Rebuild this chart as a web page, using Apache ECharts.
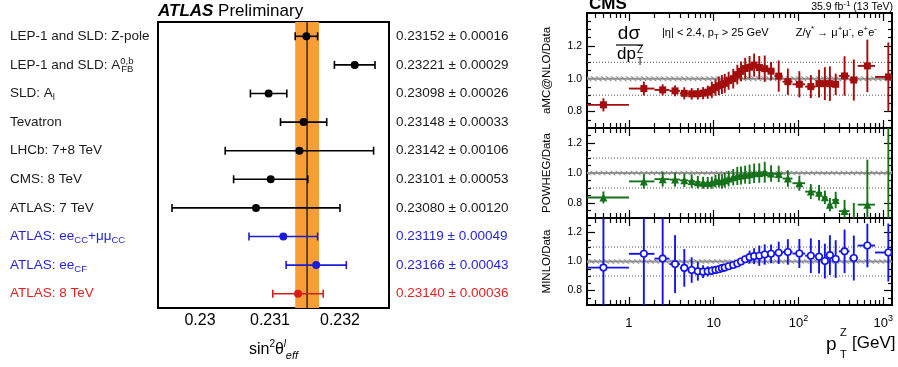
<!DOCTYPE html>
<html>
<head>
<meta charset="utf-8">
<script src="https://cdn.jsdelivr.net/npm/echarts@6.0.0/dist/echarts.min.js"></script>
<style>
  html, body { margin: 0; padding: 0; background: #fff; }
  #chart { width: 898px; height: 367px; }
</style>
</head>
<body>
<div id="chart"></div>
<script>
// ---- left panel: sin^2 theta_eff summary ----
const measurementLabels = [
  'LEP-1 and SLD: Z-pole',
  'LEP-1 and SLD: A{sup|0,b}{sub|FB}',
  'SLD: A{sub|l}',
  'Tevatron',
  'LHCb: 7+8 TeV',
  'CMS: 8 TeV',
  'ATLAS: 7 TeV',
  'ATLAS: ee{sub|CC}+μμ{sub|CC}',
  'ATLAS: ee{sub|CF}',
  'ATLAS: 8 TeV'
];
const sin2Values = [0.23152, 0.23221, 0.23098, 0.23148, 0.23142, 0.23101, 0.23080, 0.23119, 0.23166, 0.23140];
const sin2Errors = [0.00016, 0.00029, 0.00026, 0.00033, 0.00106, 0.00053, 0.00120, 0.00049, 0.00043, 0.00036];
const rowGroup = ['other', 'other', 'other', 'other', 'other', 'other', 'other', 'atlasNew', 'atlasNew', 'atlas8'];
const worldAverage = 0.23153;
const worldAverageError = 0.00017;
const sin2TickLabels = [0.230, 0.231, 0.232];

// ---- right panel: Z pT ratios (bin edges in GeV) ----
const ptEdges = [0, 1, 2, 3, 4, 5, 6, 7, 8, 9, 10, 11, 12, 13, 14, 16, 18, 20, 22, 25, 28, 32, 37, 43, 52, 65, 85,
  120, 160, 190, 220, 250, 300, 400, 500, 800, 1500];
const amcRatio = [0.841, 0.94, 0.932, 0.926, 0.911, 0.908, 0.908, 0.912, 0.918, 0.932, 0.946, 0.957, 0.965, 0.972,
  0.988, 1.0, 1.025, 1.045, 1.062, 1.07, 1.083, 1.068, 1.061, 1.046, 1.016, 0.982,
  0.966, 0.952, 0.97, 0.97, 0.97, 0.966, 1.017, 0.992, 1.078, 1.011];
const amcErr = [0.04, 0.042, 0.034, 0.033, 0.037, 0.035, 0.035, 0.037, 0.04, 0.05, 0.05, 0.057, 0.058, 0.058,
  0.055, 0.06, 0.06, 0.06, 0.065, 0.068, 0.07, 0.07, 0.08, 0.055, 0.095, 0.08,
  0.08, 0.07, 0.085, 0.1, 0.105, 0.065, 0.12, 0.125, 0.16, 0.21];
const powhegRatio = [0.837, 0.944, 0.959, 0.956, 0.951, 0.946, 0.939, 0.935, 0.934, 0.936, 0.946, 0.949, 0.944, 0.952,
  0.963, 0.972, 0.98, 0.983, 0.989, 0.991, 0.998, 1.0, 1.005, 0.996, 0.994, 0.963,
  0.932, 0.876, 0.868, 0.838, 0.789, 0.82, 0.746, 0.66, 0.789, 0.6];
const powhegErr = [0.04, 0.048, 0.05, 0.047, 0.045, 0.045, 0.042, 0.04, 0.04, 0.04, 0.042, 0.045, 0.048, 0.05,
  0.052, 0.055, 0.06, 0.06, 0.06, 0.065, 0.065, 0.065, 0.07, 0.055, 0.055, 0.055,
  0.05, 0.05, 0.052, 0.045, 0.045, 0.055, 0.075, 0.14, 0.3, 0.75];
const minloRatio = [0.958, 1.053, 1.02, 0.982, 0.956, 0.941, 0.932, 0.93, 0.932, 0.936, 0.942, 0.947, 0.954, 0.958,
  0.967, 0.976, 0.986, 1.0, 1.016, 1.03, 1.037, 1.04, 1.048, 1.053, 1.06, 1.066,
  1.055, 1.04, 1.033, 1.003, 1.044, 1.017, 1.07, 1.024, 1.11, 1.062];
const minloErr = [0.4, 0.4, 0.4, 0.2, 0.13, 0.088, 0.064, 0.044, 0.035, 0.03, 0.026, 0.022, 0.02, 0.02,
  0.02, 0.02, 0.02, 0.02, 0.025, 0.045, 0.055, 0.07, 0.07, 0.065, 0.077, 0.088,
  0.1, 0.12, 0.115, 0.12, 0.137, 0.13, 0.15, 0.155, 0.15, 0.2];
const ptTickLabels = [1, 10, 100, 1000];
const ratioTickLabels = [0.8, 1.0, 1.2];
const ratioRefLines = [0.9, 1.1];
const ratioBand = 0.015;

const FONT = "'Liberation Sans', Arial, Helvetica, sans-serif";
const groupColor = { other: '#000000', atlasNew: '#1c1cd6', atlas8: '#d81c1c' };
const textColor = { other: '#1a1a1a', atlasNew: '#2424e0', atlas8: '#e02424' };

const ptMin = 0.32, ptMax = 1270;

// minor ticks
const sin2Minor = [];
for (let k = 1147; k <= 1163; k++) {
  const v = +(k * 0.0002).toFixed(4);
  if (Math.abs(v * 1000 - Math.round(v * 1000)) > 1e-6) sin2Minor.push(v);
}
const ptMinor = [];
[0.1, 1, 10, 100].forEach(d => {
  for (let m = 2; m <= 9; m++) { const v = +(m * d).toFixed(3); if (v >= ptMin && v <= ptMax) ptMinor.push(v); }
});
function ratioMinor(lo, hi) {
  const out = [];
  for (let v = lo + 0.05; v < hi - 1e-6; v += 0.05) {
    const r = +v.toFixed(2);
    if (!ratioTickLabels.some(t => Math.abs(t - r) < 1e-6)) out.push(r);
  }
  return out;
}

// hatch pattern for the reference band
const hatch = document.createElement('canvas');
hatch.width = 5; hatch.height = 5;
const hctx = hatch.getContext('2d');
hctx.strokeStyle = '#8a8a8a';
hctx.lineWidth = 1.1;
hctx.beginPath();
hctx.moveTo(0, 0); hctx.lineTo(5, 5);
hctx.moveTo(-1, 4); hctx.lineTo(1, 6);
hctx.moveTo(4, -1); hctx.lineTo(6, 1);
hctx.stroke();
const hatchFill = { image: hatch, repeat: 'repeat' };

function binData(ratio, err) {
  return ratio.map((r, i) => [(ptEdges[i] + ptEdges[i + 1]) / 2, r, ptEdges[i], ptEdges[i + 1], err[i]]);
}

// horizontal error bars with caps (left panel)
function renderSin2Err(params, api) {
  const v = api.value(0), i = api.value(1), e = api.value(2);
  const a = api.coord([v - e, i]), b = api.coord([v + e, i]);
  const st = { stroke: groupColor[rowGroup[params.dataIndex]], lineWidth: 1.6 };
  const cap = 4;
  return {
    type: 'group', children: [
      { type: 'line', shape: { x1: a[0], y1: a[1], x2: b[0], y2: b[1] }, style: st },
      { type: 'line', shape: { x1: a[0], y1: a[1] - cap, x2: a[0], y2: a[1] + cap }, style: st },
      { type: 'line', shape: { x1: b[0], y1: b[1] - cap, x2: b[0], y2: b[1] + cap }, style: st }
    ]
  };
}

function renderBand(params, api) {
  const cs = params.coordSys;
  const lo = api.coord([worldAverage - worldAverageError, 0])[0];
  const hi = api.coord([worldAverage + worldAverageError, 0])[0];
  const c = api.coord([worldAverage, 0])[0];
  return {
    type: 'group', children: [
      { type: 'rect', shape: { x: lo, y: cs.y, width: hi - lo, height: cs.height }, style: { fill: '#f99d36' } },
      { type: 'line', shape: { x1: c, y1: cs.y, x2: c, y2: cs.y + cs.height }, style: { stroke: '#3b3024', lineWidth: 1.6 } }
    ]
  };
}

// bin-width + vertical error bars (right panel)
function makeBinErr(color) {
  return function (params, api) {
    const x = api.value(0), y = api.value(1);
    const lo = Math.max(api.value(2), ptMin), hi = api.value(3), e = api.value(4);
    const pl = api.coord([lo, y]), pr = api.coord([hi, y]);
    const pt = api.coord([x, y + e]), pb = api.coord([x, y - e]);
    const st = { stroke: color, lineWidth: 1.9 };
    return {
      type: 'group', children: [
        { type: 'line', shape: { x1: pl[0], y1: pl[1], x2: pr[0], y2: pr[1] }, style: st },
        { type: 'line', shape: { x1: pt[0], y1: pt[1], x2: pb[0], y2: pb[1] }, style: st }
      ]
    };
  };
}

function renderRef(params, api) {
  const cs = params.coordSys;
  const xa = cs.x, xb = cs.x + cs.width;
  const yHi = api.coord([ptMin, 1 + ratioBand])[1];
  const yLo = api.coord([ptMin, 1 - ratioBand])[1];
  const yOne = api.coord([ptMin, 1])[1];
  const children = [
    { type: 'rect', shape: { x: xa, y: yHi, width: cs.width, height: yLo - yHi }, style: { fill: hatchFill } },
    { type: 'line', shape: { x1: xa, y1: yOne, x2: xb, y2: yOne }, style: { stroke: '#8f8f8f', lineWidth: 2 } }
  ];
  ratioRefLines.forEach(r => {
    const y = api.coord([ptMin, r])[1];
    children.push({ type: 'line', shape: { x1: xa, y1: y, x2: xb, y2: y }, style: { stroke: '#555', lineWidth: 1, lineDash: [1, 2] } });
  });
  return { type: 'group', children };
}

// ---- grids ----
const grids = [
  { left: 158, top: 22, width: 231, height: 286 },
  { left: 587, top: 13, width: 305, height: 115 },
  { left: 587, top: 128, width: 305, height: 90 },
  { left: 587, top: 218, width: 305, height: 87 }
].map(g => Object.assign(g, {
  show: true, borderColor: '#000', borderWidth: 2, backgroundColor: 'transparent',
  containLabel: false, outerBoundsMode: 'none'
}));

const tickLine = { color: '#000', width: 1.2 };
const xAxes = [
  {
    type: 'value', gridIndex: 0, position: 'bottom', min: 0.2294, max: 0.2327,
    axisLine: { show: false, onZero: false }, splitLine: { show: false },
    axisTick: { inside: true, length: 7, customValues: sin2TickLabels, lineStyle: tickLine },
    axisLabel: { customValues: sin2TickLabels, formatter: v => String(+v.toFixed(3)), fontSize: 16, color: '#000', margin: 5, fontFamily: FONT },
    name: 'sin{s|2}θ{l|l}{e|eff}', nameLocation: 'middle', nameGap: 31, nameMoveOverlap: false,
    nameTextStyle: {
      fontSize: 16, color: '#000', fontFamily: FONT, lineHeight: 22,
      rich: {
        s: { fontSize: 10, verticalAlign: 'top', lineHeight: 12, fontFamily: FONT },
        l: { fontSize: 10, fontStyle: 'italic', verticalAlign: 'top', lineHeight: 12, width: 2, fontFamily: FONT },
        e: { fontSize: 11, fontStyle: 'italic', verticalAlign: 'bottom', lineHeight: 8, fontFamily: FONT }
      }
    }
  },
  {
    type: 'value', gridIndex: 0, position: 'bottom', min: 0.2294, max: 0.2327,
    axisLine: { show: false, onZero: false }, splitLine: { show: false },
    axisTick: { inside: true, length: 4, customValues: sin2Minor, lineStyle: tickLine },
    axisLabel: { show: false }
  }
];
function ptAxis(gi, pos, ticks, len, withLabels) {
  return {
    type: 'log', logBase: 10, gridIndex: gi, position: pos, min: ptMin, max: ptMax,
    axisLine: { show: false, onZero: false }, splitLine: { show: false },
    axisTick: { inside: true, length: len, customValues: ticks, lineStyle: tickLine },
    axisLabel: withLabels ? {
      customValues: ptTickLabels, fontSize: 13, color: '#000', margin: 9, fontFamily: FONT, lineHeight: 18,
      formatter: v => { const e = Math.round(Math.log10(v)); return e === 0 ? '1' : e === 1 ? '10' : '10{sup|' + e + '}'; },
      rich: { sup: { fontSize: 9, verticalAlign: 'top', lineHeight: 11, fontFamily: FONT } }
    } : { show: false }
  };
}
for (let p = 0; p < 3; p++) {
  xAxes.push(ptAxis(p + 1, 'bottom', ptTickLabels, 8, p === 2));
  xAxes.push(ptAxis(p + 1, 'bottom', ptMinor, 5, false));
  xAxes.push(ptAxis(p + 1, 'top', ptTickLabels, 8, false));
  xAxes.push(ptAxis(p + 1, 'top', ptMinor, 5, false));
}

const yAxes = [
  {
    type: 'category', gridIndex: 0, position: 'left', inverse: true, data: measurementLabels,
    axisLine: { show: false, onZero: false }, splitLine: { show: false },
    axisTick: { inside: true, length: 12, lineStyle: { color: '#000', width: 1.5 } },
    axisLabel: {
      interval: 0, align: 'left', margin: 148, fontSize: 13.5, lineHeight: 18, fontFamily: FONT,
      color: (v, i) => textColor[rowGroup[i]],
      rich: {
        sub: { fontSize: 9.5, verticalAlign: 'bottom', lineHeight: 9, fontFamily: FONT },
        sup: { fontSize: 9.5, verticalAlign: 'top', lineHeight: 9, width: 1, fontFamily: FONT }
      }
    }
  },
  {
    type: 'category', gridIndex: 0, position: 'right', inverse: true, data: measurementLabels,
    axisLine: { show: false, onZero: false }, splitLine: { show: false },
    axisTick: { inside: true, length: 12, lineStyle: { color: '#000', width: 1.5 } },
    axisLabel: {
      interval: 0, align: 'left', margin: 7, fontSize: 13.5, fontFamily: FONT,
      color: (v, i) => textColor[rowGroup[i]],
      formatter: (v, i) => sin2Values[i].toFixed(5) + ' ± ' + sin2Errors[i].toFixed(5)
    }
  }
];
const panelNames = ['aMC@NLO/Data', 'POWHEG/Data', 'MINLO/Data'];
const panelMax = [1.4, 1.3, 1.3];
function ratioAxis(gi, pos, ticks, len, max, name) {
  const ax = {
    type: 'value', gridIndex: gi, position: pos, min: 0.7, max: max,
    axisLine: { show: false, onZero: false }, splitLine: { show: false },
    axisTick: { inside: true, length: len, customValues: ticks, lineStyle: tickLine },
    axisLabel: name ? {
      customValues: ratioTickLabels, formatter: v => v.toFixed(1), fontSize: 10.5, color: '#000', margin: 5, fontFamily: FONT
    } : { show: false }
  };
  if (name) {
    Object.assign(ax, {
      name: name, nameLocation: 'middle', nameGap: 34, nameRotate: 90, nameMoveOverlap: false,
      nameTextStyle: { fontSize: 11.5, color: '#000', fontFamily: FONT }
    });
  }
  return ax;
}
for (let p = 0; p < 3; p++) {
  const minor = ratioMinor(0.7, panelMax[p]);
  yAxes.push(ratioAxis(p + 1, 'left', ratioTickLabels, 8, panelMax[p], panelNames[p]));
  yAxes.push(ratioAxis(p + 1, 'left', minor, 4, panelMax[p], null));
  yAxes.push(ratioAxis(p + 1, 'right', ratioTickLabels, 8, panelMax[p], null));
  yAxes.push(ratioAxis(p + 1, 'right', minor, 4, panelMax[p], null));
}

// ---- series ----
const series = [
  {
    type: 'custom', xAxisIndex: 0, yAxisIndex: 0, renderItem: renderBand,
    data: [[worldAverage, 0]], encode: { x: 0, y: 1 }, z: 1, silent: true
  },
  {
    type: 'custom', xAxisIndex: 0, yAxisIndex: 0, renderItem: renderSin2Err,
    data: sin2Values.map((v, i) => [v, i, sin2Errors[i]]), encode: { x: 0, y: 1 }, z: 3, silent: true
  },
  {
    type: 'scatter', xAxisIndex: 0, yAxisIndex: 0, symbol: 'circle', symbolSize: 8,
    data: sin2Values.map((v, i) => [v, i]), z: 4, silent: true,
    itemStyle: { color: p => groupColor[rowGroup[p.dataIndex]], opacity: 1 }
  }
];
const panels = [
  { ratio: amcRatio, err: amcErr, color: '#a30d0d', symbol: 'rect', size: 7, fill: '#a30d0d' },
  { ratio: powhegRatio, err: powhegErr, color: '#16721a', symbol: 'triangle', size: 8, fill: '#16721a' },
  { ratio: minloRatio, err: minloErr, color: '#1414f0', symbol: 'circle', size: 6.5, fill: '#ffffff' }
];
// each pT panel uses x axis 2+4p and y axis 2+4p (after the two left-panel axes)
panels.forEach((pn, p) => {
  const xi = 2 + 4 * p, yi = 2 + 4 * p;
  const data = binData(pn.ratio, pn.err);
  series.push({
    type: 'custom', xAxisIndex: xi, yAxisIndex: yi, renderItem: renderRef,
    data: [[1, 1]], encode: { x: 0, y: 1 }, z: 1, silent: true, clip: true
  });
  series.push({
    type: 'custom', xAxisIndex: xi, yAxisIndex: yi, renderItem: makeBinErr(pn.color),
    data: data, encode: { x: 0, y: 1 }, z: 3, silent: true, clip: true
  });
  series.push({
    type: 'scatter', xAxisIndex: xi, yAxisIndex: yi, symbol: pn.symbol, symbolSize: pn.size,
    data: data.map(d => [d[0], d[1]]), z: 4, silent: true, clip: true,
    itemStyle: { color: pn.fill, borderColor: pn.color, borderWidth: p === 2 ? 1.6 : 0, opacity: 1 }
  });
});

const supStyle = { fontSize: 8, verticalAlign: 'top', lineHeight: 8, fontFamily: FONT };
const subStyle = { fontSize: 8, verticalAlign: 'bottom', lineHeight: 8, fontFamily: FONT };
const graphic = [
  { type: 'text', style: { x: 158, y: 11, text: '{a|ATLAS} Preliminary', fontSize: 17, fontFamily: FONT, fill: '#000', verticalAlign: 'middle',
    rich: { a: { fontSize: 17, fontWeight: 'bold', fontStyle: 'italic', fontFamily: FONT } } } },
  { type: 'text', style: { x: 589, y: 4, text: 'CMS', fontSize: 17, fontWeight: 'bold', fontFamily: FONT, fill: '#000', verticalAlign: 'middle' } },
  { type: 'text', style: { x: 893, y: 7, text: '35.9 fb{p|-1} (13 TeV)', fontSize: 10.5, fontFamily: FONT, fill: '#000', align: 'right', verticalAlign: 'middle', lineHeight: 14,
    rich: { p: supStyle } } },
  { type: 'text', style: { x: 629, y: 34, text: 'dσ', fontSize: 19, fontFamily: FONT, fill: '#000', align: 'center', verticalAlign: 'middle' } },
  { type: 'line', shape: { x1: 616, y1: 45, x2: 643, y2: 45 }, style: { stroke: '#000', lineWidth: 1.2 } },
  { type: 'text', style: { x: 617, y: 54, text: 'dp', fontSize: 17, fontFamily: FONT, fill: '#000', verticalAlign: 'middle' } },
  { type: 'text', style: { x: 637, y: 50, text: 'Z', fontSize: 10, fontFamily: FONT, fill: '#000', verticalAlign: 'middle' } },
  { type: 'text', style: { x: 637, y: 62, text: 'T', fontSize: 10, fontFamily: FONT, fill: '#000', verticalAlign: 'middle' } },
  { type: 'text', style: { x: 662, y: 33, text: '|η| < 2.4, p{b|T} > 25 GeV', fontSize: 11, fontFamily: FONT, fill: '#000', verticalAlign: 'middle', lineHeight: 16,
    rich: { b: subStyle } } },
  { type: 'text', style: { x: 877, y: 33, text: 'Z/γ{p|*} → μ{p|+}μ{p|-}, e{p|+}e{p|-}', fontSize: 11, fontFamily: FONT, fill: '#000', align: 'right', verticalAlign: 'middle', lineHeight: 16,
    rich: { p: supStyle } } },
  { type: 'text', style: { x: 826, y: 345, text: 'p', fontSize: 19, fontFamily: FONT, fill: '#000', verticalAlign: 'middle' } },
  { type: 'text', style: { x: 840, y: 333, text: 'Z', fontSize: 11, fontFamily: FONT, fill: '#000', verticalAlign: 'middle' } },
  { type: 'text', style: { x: 840, y: 355, text: 'T', fontSize: 11, fontFamily: FONT, fill: '#000', verticalAlign: 'middle' } },
  { type: 'text', style: { x: 852, y: 343, text: '[GeV]', fontSize: 17, fontFamily: FONT, fill: '#000', verticalAlign: 'middle' } }
];

const chart = echarts.init(document.getElementById('chart'), null, { renderer: 'canvas' });
chart.setOption({
  animation: false,
  backgroundColor: '#fff',
  textStyle: { fontFamily: FONT },
  grid: grids,
  xAxis: xAxes,
  yAxis: yAxes,
  series: series,
  graphic: graphic
});
</script>
</body>
</html>
